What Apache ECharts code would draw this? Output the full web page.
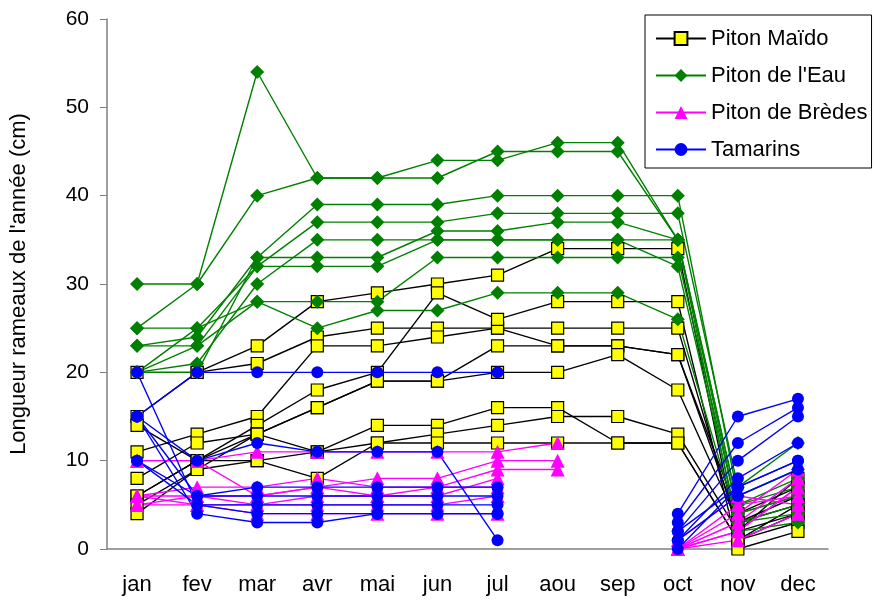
<!DOCTYPE html>
<html>
<head>
<meta charset="utf-8">
<script src="https://cdn.jsdelivr.net/npm/echarts@6/dist/echarts.min.js"></script>
<style>html,body{margin:0;padding:0;background:#fff;}#c{width:886px;height:600px;}</style>
</head>
<body>
<div id="c"></div>
<script>
const months = ['jan','fev','mar','avr','mai','jun','jul','aou','sep','oct','nov','dec'];
const siteNames = ['Piton Maïdo', "Piton de l'Eau", 'Piton de Brèdes', 'Tamarins'];
const yTicks = [0, 10, 20, 30, 40, 50, 60];

const maido = [
  [20,20,23,28,29,30,31,34,34,34,1,3],
  [15,20,21,24,25,25,25,25,25,25,2,4],
  [11,13,15,23,23,24,25,23,23,22,3,6],
  [14,10,14,18,20,29,26,28,28,28,0,2],
  [8,12,13,16,19,19,23,23,23,22,4,7],
  [6,10,13,16,19,19,20,20,22,18,3,5],
  [4,9,13,11,14,14,16,16,12,12,1,4],
  [6,10,10,8,12,13,14,15,15,13,2,8],
  [5,9,10,11,12,12,12,12,12,12,1,5]
];
const eau = [
  [30,30,54,42,42,44,44,46,46,35,4,6],
  [25,30,40,42,42,42,45,45,45,35,5,8],
  [20,20,33,39,39,39,40,40,40,40,6,9],
  [23,23,32,37,37,37,38,38,38,38,7,12],
  [20,21,30,35,35,35,35,35,35,32,3,5],
  [23,24,33,33,33,36,36,37,37,35,5,7],
  [20,25,32,32,32,35,35,35,35,35,2,3],
  [20,23,28,28,28,33,33,33,33,33,4,6],
  [25,25,28,25,27,27,29,29,29,26,3,4]
];
const bredes = [
  [10,10,11,11,11,11,11,12,null,0,3,8],
  [10,10,6,7,8,8,10,10,null,0,2,7],
  [6,7,7,8,7,7,9,9,null,0,4,9],
  [5,6,5,6,6,6,8,null,null,0,5,6],
  [6,5,5,5,5,5,6,null,null,1,6,5],
  [5,5,4,4,4,4,4,null,null,0,1,4],
  [6,6,6,7,6,7,7,null,null,0,2,7]
];
const tamarins = [
  [15,20,20,20,20,20,20,null,null,4,15,17],
  [20,5,5,5,5,5,5,null,null,3,12,16],
  [15,10,12,11,11,11,1,null,null,2,10,15],
  [15,6,7,7,7,7,7,null,null,1,8,12],
  [10,6,6,6,6,6,6,null,null,2,7,10],
  [15,4,3,3,4,4,4,null,null,1,6,9],
  [10,5,4,4,4,4,4,null,null,0,7,10]
];

const styles = [
  {line:'#000000', symbol:'rect', size:12, fill:'#ffff00', border:'#000000', bw:1.2},
  {line:'#008000', symbol:'diamond', size:14, fill:'#008000', border:'#008000', bw:0},
  {line:'#ff00ff', symbol:'triangle', size:14, fill:'#ff00ff', border:'#ff00ff', bw:0},
  {line:'#0000ff', symbol:'circle', size:12, fill:'#0000ff', border:'#0000ff', bw:0}
];

const groups = [maido, eau, bredes, tamarins];
const series = [];
groups.forEach((g, gi) => {
  const st = styles[gi];
  g.forEach(row => {
    series.push({
      name: siteNames[gi],
      type: 'line',
      data: row,
      symbol: st.symbol,
      symbolSize: st.size,
      showAllSymbol: true,
      connectNulls: false,
      animation: false,
      lineStyle: {color: st.line, width: 1.4},
      itemStyle: {color: st.fill, borderColor: st.border, borderWidth: st.bw}
    });
  });
});

const chart = echarts.init(document.getElementById('c'));
chart.setOption({
  animation: false,
  backgroundColor: '#ffffff',
  textStyle: {fontFamily: 'Liberation Sans, Arial, sans-serif'},
  grid: {left: 106, right: 58, top: 19, bottom: 51, containLabel: false},
  legend: {
    data: siteNames,
    orient: 'vertical',
    left: 645,
    top: 15,
    backgroundColor: '#ffffff',
    borderColor: '#000000',
    borderWidth: 1,
    padding: [12, 4, 7, 10],
    itemGap: 14,
    itemWidth: 50,
    itemHeight: 16,
    itemTextGap: 10,
    selectedMode: false,
    textStyle: {fontSize: 22, color: '#000', fontFamily: 'Liberation Sans, Arial, sans-serif', lineHeight: 23}
  },
  xAxis: {
    type: 'category',
    data: months,
    boundaryGap: true,
    axisTick: {show: false},
    axisLine: {lineStyle: {color: '#808080', width: 1.5}},
    axisLabel: {fontSize: 22, color: '#000', margin: 25, interval: 0}
  },
  yAxis: {
    type: 'value',
    min: yTicks[0],
    max: yTicks[yTicks.length - 1],
    interval: 10,
    name: "Longueur rameaux de l'année (cm)",
    nameLocation: 'middle',
    nameGap: 77,
    nameRotate: 90,
    nameTextStyle: {fontSize: 22, color: '#000'},
    splitLine: {show: false},
    axisLine: {show: true, lineStyle: {color: '#808080', width: 1.5}},
    axisTick: {show: true, length: 7, lineStyle: {color: '#808080'}},
    axisLabel: {fontSize: 21, color: '#000', margin: 18}
  },
  series: series
});
</script>
</body>
</html>
